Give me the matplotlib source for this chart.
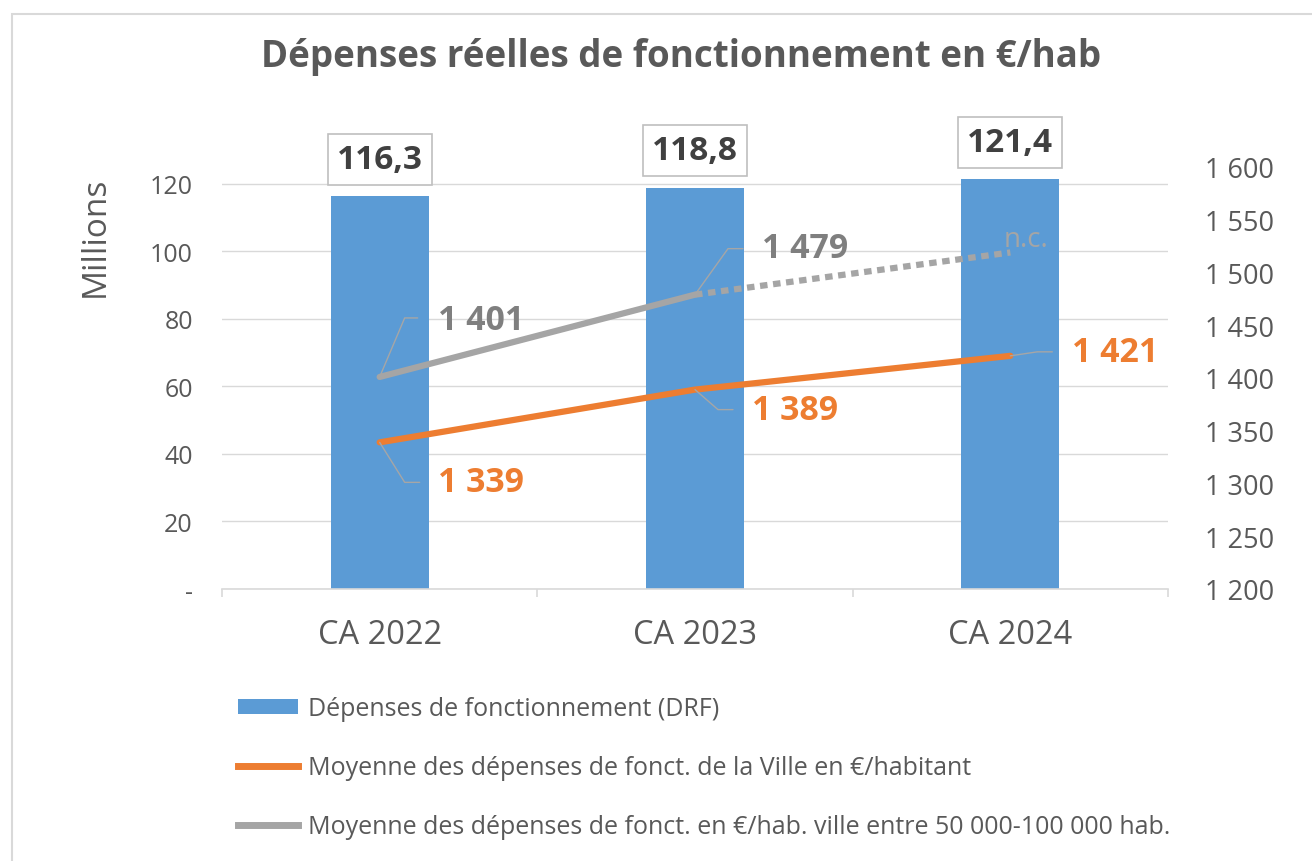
import math

import matplotlib
matplotlib.use("Agg")
import matplotlib.pyplot as plt
from matplotlib.lines import Line2D
from matplotlib.patches import Patch, Rectangle
from matplotlib.ticker import FixedLocator, FuncFormatter

# ---------------------------------------------------------------------------
# Data
# ---------------------------------------------------------------------------

categories = ["CA 2022", "CA 2023", "CA 2024"]
drf_millions = [116.3, 118.8, 121.4]          # left axis (bars)
ville_per_hab = [1339, 1389, 1421]             # right axis, orange line
strate_per_hab = [1401, 1479]                  # right axis, grey line (known)
strate_nc_value = 1519                         # placeholder point for CA 2024 (n.c.)

bar_labels = ["116,3", "118,8", "121,4"]
ville_labels = ["1 339", "1 389", "1 421"]
strate_labels = ["1 401", "1 479"]

legend_labels = [
    "Dépenses de fonctionnement (DRF)",
    "Moyenne des dépenses de fonct. de la Ville en €/habitant",
    "Moyenne des dépenses de fonct. en €/hab. ville entre 50 000-100 000 hab.",
]

# ---------------------------------------------------------------------------
# Style
# ---------------------------------------------------------------------------

BLUE = "#5B9BD5"
ORANGE = "#ED7D31"
GREY = "#A5A5A5"
GREY_TXT = "#7F7F7F"
TXT = "#595959"
DARK = "#404040"
GRID = "#D9D9D9"

plt.rcParams["font.family"] = ["Open Sans", "DejaVu Sans"]

W, H = 1312, 862
fig = plt.figure(figsize=(W / 100, H / 100), dpi=100)

# outer chart frame (runs off the right/bottom edge like the screenshot)
fig.add_artist(Rectangle((12 / W, -0.1), 1.2, 1 - 15 / H + 0.1,
                         transform=fig.transFigure, fill=False,
                         ec=GRID, lw=1.5))

ax = fig.add_axes([222 / W, 1 - 590 / H, (1168 - 222) / W, (590 - 168) / H])
ax2 = ax.twinx()

x = list(range(len(categories)))

# bars
ax.bar(x, drf_millions, width=0.31, color=BLUE, zorder=2)
ax.set_xlim(-0.5, 2.5)
ax.set_ylim(0, 125)
ax.yaxis.set_major_locator(FixedLocator([0, 20, 40, 60, 80, 100, 120]))
ax.yaxis.set_major_formatter(FuncFormatter(lambda v, p: "-" if v == 0 else f"{v:.0f}"))
ax.grid(axis="y", color=GRID, lw=1, zorder=0)
ax.set_axisbelow(True)

ax.set_xticks(x)
ax.set_xticklabels(categories)
ax.set_xticks([-0.5, 0.5, 1.5, 2.5], minor=True)
ax.tick_params(axis="x", which="major", length=0, pad=21, labelsize=23.5, labelcolor=TXT)
ax.tick_params(axis="x", which="minor", length=6, color=GRID, width=1.2)
ax.tick_params(axis="y", length=0, pad=21, labelsize=18, labelcolor=TXT)

for s in ("left", "right", "top"):
    ax.spines[s].set_visible(False)
    ax2.spines[s].set_visible(False)
ax.spines["bottom"].set_color(GRID)
ax.spines["bottom"].set_linewidth(1.2)
ax2.spines["bottom"].set_visible(False)

# boxed value labels on bars
for xi, v, lab in zip(x, drf_millions, bar_labels):
    ax.annotate(lab, xy=(xi, v), xytext=(0, 37), textcoords="offset pixels",
                ha="center", va="center", fontsize=24, fontweight="bold",
                color=DARK,
                bbox=dict(boxstyle="square,pad=0.27", fc="white", ec="#BFBFBF", lw=1.2))

fig.text(95 / W, 1 - 237 / H, "Millions", rotation=90, ha="center", va="center",
         fontsize=24, color=TXT)

# lines on secondary axis
ax2.set_ylim(1200, 1600)
ax2.yaxis.set_major_locator(FixedLocator(list(range(1200, 1601, 50))))
ax2.yaxis.set_major_formatter(FuncFormatter(lambda v, p: f"{int(v):,}".replace(",", " ")))
ax2.tick_params(axis="y", length=0, pad=26.5, labelsize=19.5, labelcolor=TXT)

ax2.plot(x, ville_per_hab, color=ORANGE, lw=4.5, solid_capstyle="round", zorder=3)
ax2.plot(x[:2], strate_per_hab, color=GREY, lw=4.5, solid_capstyle="round", zorder=3)
ax2.plot([x[1], x[2]], [strate_per_hab[1], strate_nc_value], color=GREY, lw=4.5,
         linestyle=(0, (1.2, 0.9)), dash_capstyle="butt", zorder=3)


def leader_label(xi, yi, text, color, bend, end, text_off):
    """Excel-style leader line from point to label."""
    ang = math.degrees(math.atan2(bend[1], bend[0]))
    ax2.annotate("", xy=(xi, yi), xytext=end, textcoords="offset pixels",
                 arrowprops=dict(arrowstyle="-", color="#A6A6A6", lw=1,
                                 shrinkA=0, shrinkB=0,
                                 connectionstyle=f"angle,angleA=0,angleB={ang}"))
    ax2.annotate(text, xy=(xi, yi), xytext=text_off, textcoords="offset pixels",
                 ha="left", va="center", fontsize=24.4, fontweight="bold", color=color)


leader_label(x[0], ville_per_hab[0], ville_labels[0], ORANGE, (25, -40), (40, -40), (58, -40))
leader_label(x[1], ville_per_hab[1], ville_labels[1], ORANGE, (23, -20), (38, -20), (57, -20))
leader_label(x[2], ville_per_hab[2], ville_labels[2], ORANGE, (27, 4), (42, 4), (62, 4))
leader_label(x[0], strate_per_hab[0], strate_labels[0], GREY_TXT, (25, 59), (38, 59), (58, 57))
leader_label(x[1], strate_per_hab[1], strate_labels[1], GREY_TXT, (33, 46), (48, 46), (67, 47))

ax2.annotate("n.c.", xy=(x[2], strate_nc_value), xytext=(-7, 13), textcoords="offset pixels",
             ha="left", va="center", fontsize=20, color=GREY)

# title
fig.text(681 / W, 1 - 57 / H, "Dépenses réelles de fonctionnement en €/hab",
         ha="center", va="center", fontsize=26.5, fontweight="bold", color=TXT)

# legend
handles = [
    Patch(facecolor=BLUE, edgecolor="none"),
    Line2D([], [], color=ORANGE, lw=5),
    Line2D([], [], color=GREY, lw=5),
]
fig.legend(handles, legend_labels, loc="upper left",
           bbox_to_anchor=(238 / W, 1 - 697 / H), frameon=False,
           fontsize=18, labelcolor=TXT, handlelength=2.4, handleheight=0.56,
           handletextpad=0.4, labelspacing=1.36, borderpad=0, borderaxespad=0)

fig.savefig("out.png", dpi=100)
